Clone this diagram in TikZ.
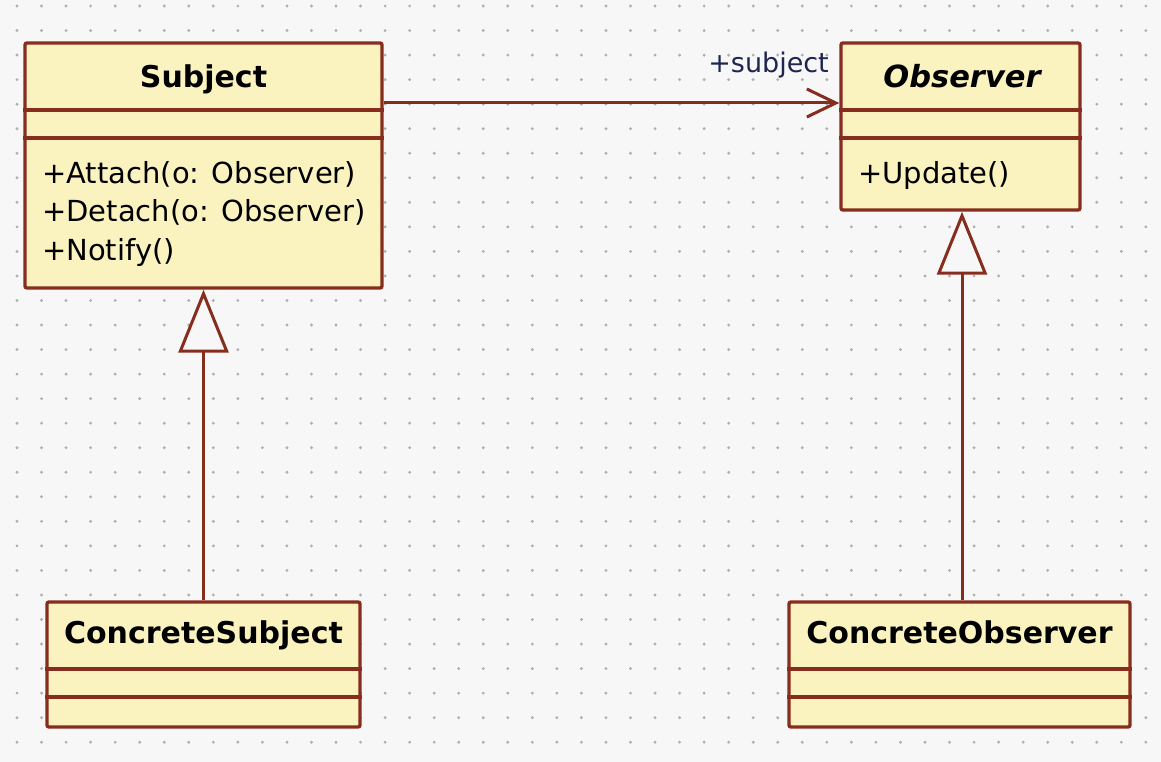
\documentclass[tikz,border=0pt]{standalone}
\usepackage{fontspec}
\setmainfont{DejaVu Sans}
\usetikzlibrary{arrows.meta}
\definecolor{bgc}{RGB}{247,247,247}
\definecolor{dotc}{RGB}{175,175,175}
\definecolor{boxfill}{RGB}{250,243,192}
\definecolor{boxline}{RGB}{135,45,30}
\definecolor{labc}{RGB}{30,38,80}
\tikzset{
  classbox/.style={draw=boxline, fill=boxfill, line width=3.4pt, rounded corners=2pt, inner sep=0pt},
  divider/.style={draw=boxline, line width=3.2pt},
  titletext/.style={font=\fontsize{30}{36}\selectfont\bfseries, anchor=base, inner sep=0pt},
  optext/.style={font=\fontsize{29}{36}\selectfont, anchor=base west, inner sep=0pt},
  assoc/.style={draw=boxline, line width=3pt, -{Straight Barb[length=29pt,width=28pt,line width=3pt]}},
  inherit/.style={draw=boxline, line width=3pt, -{Triangle[length=63pt,width=50pt,fill=bgc,line width=3pt]}}
}
\begin{document}
\begin{tikzpicture}[x=1pt,y=-1pt]
\useasboundingbox (0,0) rectangle (1161,762);
\fill[bgc] (0,0) rectangle (1161,762);
\foreach \i in {0,...,46} {
  \foreach \j in {0,...,30} {
    \fill[dotc] ({17+24.54*\i},{6+24.54*\j}) circle (1.6pt);
  }
}
% Subject
\node[classbox, minimum width=357pt, minimum height=245pt] (sub) at (203.5,165.5) {};
\draw[divider] (sub.west |- 0,110) -- (sub.east |- 0,110);
\draw[divider] (sub.west |- 0,138) -- (sub.east |- 0,138);
\node[titletext] (subt) at (203.5,88) {Subject};
\node[optext] (op1) at (42,183) {+Attach(o: Observer)};
\node[optext] (op2) at (42,221) {+Detach(o: Observer)};
\node[optext] (op3) at (42,260) {+Notify()};
% Observer
\node[classbox, minimum width=239pt, minimum height=167pt] (obs) at (960.5,126.5) {};
\draw[divider] (obs.west |- 0,110) -- (obs.east |- 0,110);
\draw[divider] (obs.west |- 0,138) -- (obs.east |- 0,138);
\node[titletext, font=\fontsize{30.5}{36}\selectfont\bfseries\itshape] (obst) at (962,88) {Observer};
\node[optext] (op4) at (858,183) {+Update()};
% ConcreteSubject
\node[classbox, minimum width=313pt, minimum height=125pt] (cs) at (203.5,664.5) {};
\draw[divider] (cs.west |- 0,669) -- (cs.east |- 0,669);
\draw[divider] (cs.west |- 0,697) -- (cs.east |- 0,697);
\node[titletext] (cst) at (203.5,643) {ConcreteSubject};
% ConcreteObserver
\node[classbox, minimum width=341pt, minimum height=125pt] (co) at (959.5,664.5) {};
\draw[divider] (co.west |- 0,669) -- (co.east |- 0,669);
\draw[divider] (co.west |- 0,697) -- (co.east |- 0,697);
\node[titletext] (cot) at (959.5,643) {ConcreteObserver};
% association
\coordinate (a1) at (sub.east |- 0,103);
\coordinate (a2) at (obs.west |- 0,103);
\draw[assoc] (a1) -- (a2);
\node[font=\fontsize{27}{32}\selectfont, text=labc, anchor=base east, inner sep=0pt] (lab) at (829,73) {+subject};
% inheritance
\draw[inherit] (cs.north) -- (sub.south);
\coordinate (ot) at (962,0);
\draw[inherit] (co.north -| ot) -- (obs.south -| ot);
\end{tikzpicture}
\end{document}
